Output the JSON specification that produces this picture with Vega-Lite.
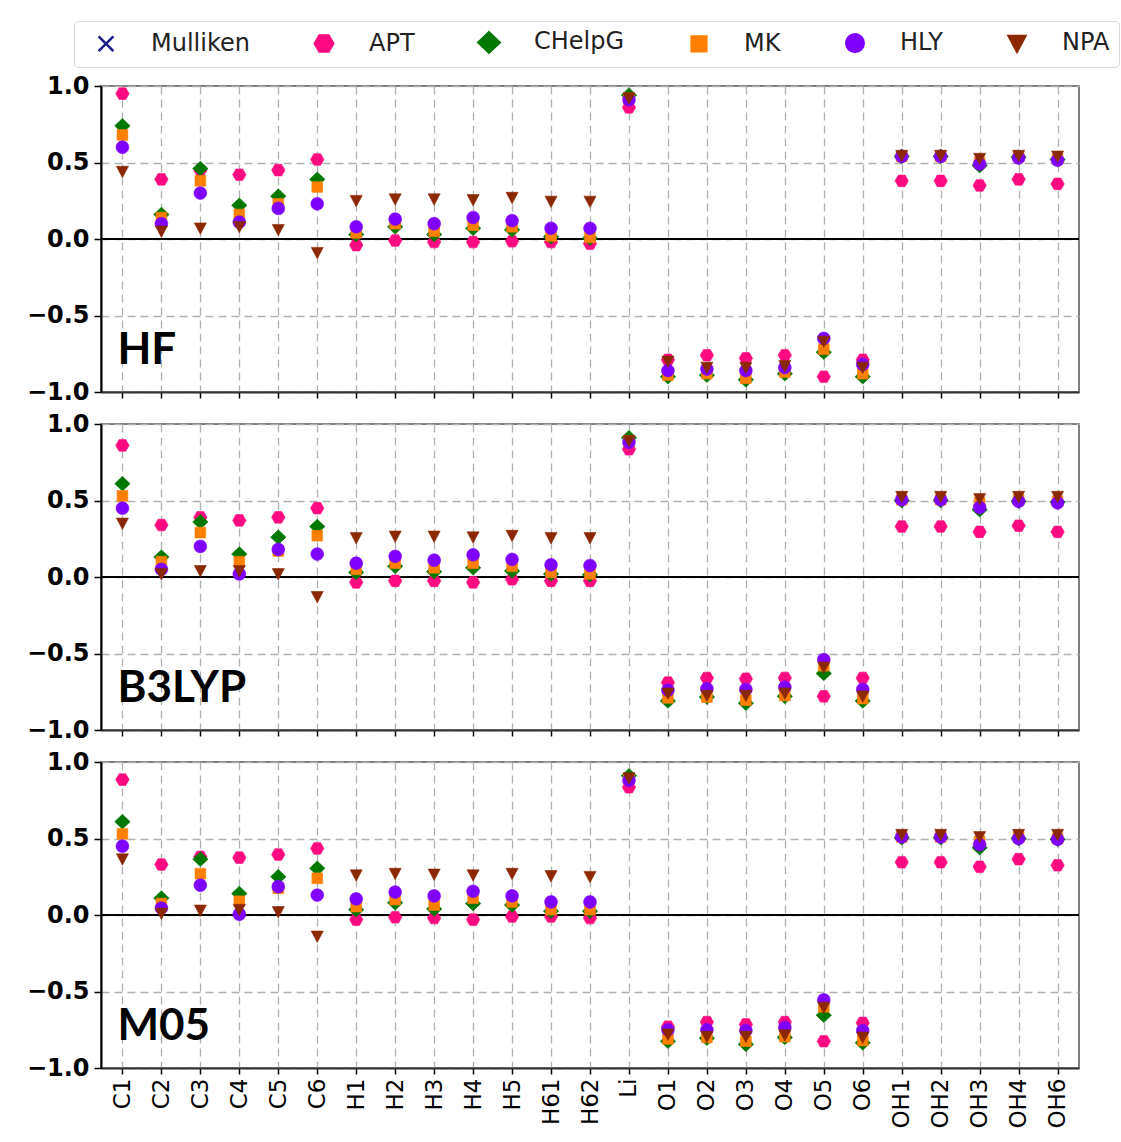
{
"$schema": "https://vega.github.io/schema/vega-lite/v6.json",
"background": "white",
"padding": {"left": 25, "top": 20, "right": 3, "bottom": 2},
"bounds": "flush",
"spacing": 32,
"config": {
  "view": {"stroke": "#555", "strokeWidth": 1.5},
  "font": "DejaVu Sans",
  "legend": {"symbolStrokeWidth": 2.5}
},
"datasets": {
"HF": [
{"atom":"C1","scheme":"APT","q":0.95},{"atom":"C1","scheme":"CHelpG","q":0.74},{"atom":"C1","scheme":"MK","q":0.68},{"atom":"C1","scheme":"HLY","q":0.60},{"atom":"C1","scheme":"NPA","q":0.44},
{"atom":"C2","scheme":"APT","q":0.39},{"atom":"C2","scheme":"CHelpG","q":0.16},{"atom":"C2","scheme":"MK","q":0.14},{"atom":"C2","scheme":"HLY","q":0.10},{"atom":"C2","scheme":"NPA","q":0.05},
{"atom":"C3","scheme":"APT","q":0.45},{"atom":"C3","scheme":"CHelpG","q":0.46},{"atom":"C3","scheme":"MK","q":0.38},{"atom":"C3","scheme":"HLY","q":0.30},{"atom":"C3","scheme":"NPA","q":0.07},
{"atom":"C4","scheme":"APT","q":0.42},{"atom":"C4","scheme":"CHelpG","q":0.22},{"atom":"C4","scheme":"MK","q":0.16},{"atom":"C4","scheme":"HLY","q":0.11},{"atom":"C4","scheme":"NPA","q":0.08},
{"atom":"C5","scheme":"APT","q":0.45},{"atom":"C5","scheme":"CHelpG","q":0.28},{"atom":"C5","scheme":"MK","q":0.23},{"atom":"C5","scheme":"HLY","q":0.20},{"atom":"C5","scheme":"NPA","q":0.06},
{"atom":"C6","scheme":"APT","q":0.52},{"atom":"C6","scheme":"CHelpG","q":0.39},{"atom":"C6","scheme":"MK","q":0.34},{"atom":"C6","scheme":"HLY","q":0.23},{"atom":"C6","scheme":"NPA","q":-0.09},
{"atom":"H1","scheme":"APT","q":-0.04},{"atom":"H1","scheme":"CHelpG","q":0.03},{"atom":"H1","scheme":"MK","q":0.04},{"atom":"H1","scheme":"HLY","q":0.08},{"atom":"H1","scheme":"NPA","q":0.25},
{"atom":"H2","scheme":"APT","q":-0.01},{"atom":"H2","scheme":"CHelpG","q":0.08},{"atom":"H2","scheme":"MK","q":0.10},{"atom":"H2","scheme":"HLY","q":0.13},{"atom":"H2","scheme":"NPA","q":0.26},
{"atom":"H3","scheme":"APT","q":-0.02},{"atom":"H3","scheme":"CHelpG","q":0.03},{"atom":"H3","scheme":"MK","q":0.05},{"atom":"H3","scheme":"HLY","q":0.10},{"atom":"H3","scheme":"NPA","q":0.26},
{"atom":"H4","scheme":"APT","q":-0.02},{"atom":"H4","scheme":"CHelpG","q":0.07},{"atom":"H4","scheme":"MK","q":0.09},{"atom":"H4","scheme":"HLY","q":0.14},{"atom":"H4","scheme":"NPA","q":0.255},
{"atom":"H5","scheme":"APT","q":-0.015},{"atom":"H5","scheme":"CHelpG","q":0.06},{"atom":"H5","scheme":"MK","q":0.08},{"atom":"H5","scheme":"HLY","q":0.12},{"atom":"H5","scheme":"NPA","q":0.27},
{"atom":"H61","scheme":"APT","q":-0.02},{"atom":"H61","scheme":"CHelpG","q":0.015},{"atom":"H61","scheme":"MK","q":0.02},{"atom":"H61","scheme":"HLY","q":0.07},{"atom":"H61","scheme":"NPA","q":0.245},
{"atom":"H62","scheme":"APT","q":-0.03},{"atom":"H62","scheme":"CHelpG","q":0.005},{"atom":"H62","scheme":"MK","q":0.01},{"atom":"H62","scheme":"HLY","q":0.07},{"atom":"H62","scheme":"NPA","q":0.245},
{"atom":"Li","scheme":"APT","q":0.86},{"atom":"Li","scheme":"CHelpG","q":0.94},{"atom":"Li","scheme":"MK","q":0.92},{"atom":"Li","scheme":"HLY","q":0.91},{"atom":"Li","scheme":"NPA","q":0.92},
{"atom":"O1","scheme":"APT","q":-0.79},{"atom":"O1","scheme":"CHelpG","q":-0.90},{"atom":"O1","scheme":"MK","q":-0.89},{"atom":"O1","scheme":"HLY","q":-0.86},{"atom":"O1","scheme":"NPA","q":-0.80},
{"atom":"O2","scheme":"APT","q":-0.76},{"atom":"O2","scheme":"CHelpG","q":-0.89},{"atom":"O2","scheme":"MK","q":-0.88},{"atom":"O2","scheme":"HLY","q":-0.85},{"atom":"O2","scheme":"NPA","q":-0.84},
{"atom":"O3","scheme":"APT","q":-0.78},{"atom":"O3","scheme":"CHelpG","q":-0.92},{"atom":"O3","scheme":"MK","q":-0.91},{"atom":"O3","scheme":"HLY","q":-0.86},{"atom":"O3","scheme":"NPA","q":-0.84},
{"atom":"O4","scheme":"APT","q":-0.76},{"atom":"O4","scheme":"CHelpG","q":-0.88},{"atom":"O4","scheme":"MK","q":-0.87},{"atom":"O4","scheme":"HLY","q":-0.84},{"atom":"O4","scheme":"NPA","q":-0.83},
{"atom":"O5","scheme":"APT","q":-0.90},{"atom":"O5","scheme":"CHelpG","q":-0.74},{"atom":"O5","scheme":"MK","q":-0.72},{"atom":"O5","scheme":"HLY","q":-0.65},{"atom":"O5","scheme":"NPA","q":-0.67},
{"atom":"O6","scheme":"APT","q":-0.79},{"atom":"O6","scheme":"CHelpG","q":-0.90},{"atom":"O6","scheme":"MK","q":-0.88},{"atom":"O6","scheme":"HLY","q":-0.82},{"atom":"O6","scheme":"NPA","q":-0.84},
{"atom":"OH1","scheme":"APT","q":0.38},{"atom":"OH1","scheme":"CHelpG","q":0.54},{"atom":"OH1","scheme":"MK","q":0.54},{"atom":"OH1","scheme":"HLY","q":0.54},{"atom":"OH1","scheme":"NPA","q":0.545},
{"atom":"OH2","scheme":"APT","q":0.38},{"atom":"OH2","scheme":"CHelpG","q":0.54},{"atom":"OH2","scheme":"MK","q":0.54},{"atom":"OH2","scheme":"HLY","q":0.54},{"atom":"OH2","scheme":"NPA","q":0.545},
{"atom":"OH3","scheme":"APT","q":0.35},{"atom":"OH3","scheme":"CHelpG","q":0.48},{"atom":"OH3","scheme":"MK","q":0.50},{"atom":"OH3","scheme":"HLY","q":0.49},{"atom":"OH3","scheme":"NPA","q":0.525},
{"atom":"OH4","scheme":"APT","q":0.39},{"atom":"OH4","scheme":"CHelpG","q":0.535},{"atom":"OH4","scheme":"MK","q":0.54},{"atom":"OH4","scheme":"HLY","q":0.53},{"atom":"OH4","scheme":"NPA","q":0.545},
{"atom":"OH6","scheme":"APT","q":0.36},{"atom":"OH6","scheme":"CHelpG","q":0.52},{"atom":"OH6","scheme":"MK","q":0.525},{"atom":"OH6","scheme":"HLY","q":0.515},{"atom":"OH6","scheme":"NPA","q":0.54}
],
"B3LYP": [
{"atom":"C1","scheme":"APT","q":0.86},{"atom":"C1","scheme":"CHelpG","q":0.61},{"atom":"C1","scheme":"MK","q":0.53},{"atom":"C1","scheme":"HLY","q":0.45},{"atom":"C1","scheme":"NPA","q":0.35},
{"atom":"C2","scheme":"APT","q":0.34},{"atom":"C2","scheme":"CHelpG","q":0.13},{"atom":"C2","scheme":"MK","q":0.10},{"atom":"C2","scheme":"HLY","q":0.05},{"atom":"C2","scheme":"NPA","q":0.02},
{"atom":"C3","scheme":"APT","q":0.39},{"atom":"C3","scheme":"CHelpG","q":0.36},{"atom":"C3","scheme":"MK","q":0.29},{"atom":"C3","scheme":"HLY","q":0.20},{"atom":"C3","scheme":"NPA","q":0.04},
{"atom":"C4","scheme":"APT","q":0.37},{"atom":"C4","scheme":"CHelpG","q":0.15},{"atom":"C4","scheme":"MK","q":0.10},{"atom":"C4","scheme":"HLY","q":0.02},{"atom":"C4","scheme":"NPA","q":0.04},
{"atom":"C5","scheme":"APT","q":0.39},{"atom":"C5","scheme":"CHelpG","q":0.26},{"atom":"C5","scheme":"MK","q":0.17},{"atom":"C5","scheme":"HLY","q":0.18},{"atom":"C5","scheme":"NPA","q":0.02},
{"atom":"C6","scheme":"APT","q":0.45},{"atom":"C6","scheme":"CHelpG","q":0.33},{"atom":"C6","scheme":"MK","q":0.27},{"atom":"C6","scheme":"HLY","q":0.15},{"atom":"C6","scheme":"NPA","q":-0.13},
{"atom":"H1","scheme":"APT","q":-0.035},{"atom":"H1","scheme":"CHelpG","q":0.03},{"atom":"H1","scheme":"MK","q":0.05},{"atom":"H1","scheme":"HLY","q":0.09},{"atom":"H1","scheme":"NPA","q":0.255},
{"atom":"H2","scheme":"APT","q":-0.025},{"atom":"H2","scheme":"CHelpG","q":0.07},{"atom":"H2","scheme":"MK","q":0.09},{"atom":"H2","scheme":"HLY","q":0.135},{"atom":"H2","scheme":"NPA","q":0.265},
{"atom":"H3","scheme":"APT","q":-0.025},{"atom":"H3","scheme":"CHelpG","q":0.035},{"atom":"H3","scheme":"MK","q":0.06},{"atom":"H3","scheme":"HLY","q":0.11},{"atom":"H3","scheme":"NPA","q":0.265},
{"atom":"H4","scheme":"APT","q":-0.035},{"atom":"H4","scheme":"CHelpG","q":0.06},{"atom":"H4","scheme":"MK","q":0.09},{"atom":"H4","scheme":"HLY","q":0.145},{"atom":"H4","scheme":"NPA","q":0.26},
{"atom":"H5","scheme":"APT","q":-0.015},{"atom":"H5","scheme":"CHelpG","q":0.04},{"atom":"H5","scheme":"MK","q":0.07},{"atom":"H5","scheme":"HLY","q":0.115},{"atom":"H5","scheme":"NPA","q":0.27},
{"atom":"H61","scheme":"APT","q":-0.025},{"atom":"H61","scheme":"CHelpG","q":0.02},{"atom":"H61","scheme":"MK","q":0.03},{"atom":"H61","scheme":"HLY","q":0.08},{"atom":"H61","scheme":"NPA","q":0.255},
{"atom":"H62","scheme":"APT","q":-0.025},{"atom":"H62","scheme":"CHelpG","q":0.015},{"atom":"H62","scheme":"MK","q":0.02},{"atom":"H62","scheme":"HLY","q":0.075},{"atom":"H62","scheme":"NPA","q":0.255},
{"atom":"Li","scheme":"APT","q":0.835},{"atom":"Li","scheme":"CHelpG","q":0.91},{"atom":"Li","scheme":"MK","q":0.89},{"atom":"Li","scheme":"HLY","q":0.88},{"atom":"Li","scheme":"NPA","q":0.89},
{"atom":"O1","scheme":"APT","q":-0.69},{"atom":"O1","scheme":"CHelpG","q":-0.81},{"atom":"O1","scheme":"MK","q":-0.79},{"atom":"O1","scheme":"HLY","q":-0.74},{"atom":"O1","scheme":"NPA","q":-0.76},
{"atom":"O2","scheme":"APT","q":-0.66},{"atom":"O2","scheme":"CHelpG","q":-0.785},{"atom":"O2","scheme":"MK","q":-0.785},{"atom":"O2","scheme":"HLY","q":-0.73},{"atom":"O2","scheme":"NPA","q":-0.775},
{"atom":"O3","scheme":"APT","q":-0.665},{"atom":"O3","scheme":"CHelpG","q":-0.825},{"atom":"O3","scheme":"MK","q":-0.805},{"atom":"O3","scheme":"HLY","q":-0.735},{"atom":"O3","scheme":"NPA","q":-0.775},
{"atom":"O4","scheme":"APT","q":-0.66},{"atom":"O4","scheme":"CHelpG","q":-0.78},{"atom":"O4","scheme":"MK","q":-0.775},{"atom":"O4","scheme":"HLY","q":-0.72},{"atom":"O4","scheme":"NPA","q":-0.76},
{"atom":"O5","scheme":"APT","q":-0.78},{"atom":"O5","scheme":"CHelpG","q":-0.63},{"atom":"O5","scheme":"MK","q":-0.58},{"atom":"O5","scheme":"HLY","q":-0.54},{"atom":"O5","scheme":"NPA","q":-0.59},
{"atom":"O6","scheme":"APT","q":-0.66},{"atom":"O6","scheme":"CHelpG","q":-0.81},{"atom":"O6","scheme":"MK","q":-0.795},{"atom":"O6","scheme":"HLY","q":-0.735},{"atom":"O6","scheme":"NPA","q":-0.78},
{"atom":"OH1","scheme":"APT","q":0.33},{"atom":"OH1","scheme":"CHelpG","q":0.50},{"atom":"OH1","scheme":"MK","q":0.505},{"atom":"OH1","scheme":"HLY","q":0.505},{"atom":"OH1","scheme":"NPA","q":0.525},
{"atom":"OH2","scheme":"APT","q":0.33},{"atom":"OH2","scheme":"CHelpG","q":0.50},{"atom":"OH2","scheme":"MK","q":0.505},{"atom":"OH2","scheme":"HLY","q":0.505},{"atom":"OH2","scheme":"NPA","q":0.525},
{"atom":"OH3","scheme":"APT","q":0.295},{"atom":"OH3","scheme":"CHelpG","q":0.44},{"atom":"OH3","scheme":"MK","q":0.485},{"atom":"OH3","scheme":"HLY","q":0.455},{"atom":"OH3","scheme":"NPA","q":0.51},
{"atom":"OH4","scheme":"APT","q":0.335},{"atom":"OH4","scheme":"CHelpG","q":0.495},{"atom":"OH4","scheme":"MK","q":0.505},{"atom":"OH4","scheme":"HLY","q":0.495},{"atom":"OH4","scheme":"NPA","q":0.525},
{"atom":"OH6","scheme":"APT","q":0.295},{"atom":"OH6","scheme":"CHelpG","q":0.49},{"atom":"OH6","scheme":"MK","q":0.495},{"atom":"OH6","scheme":"HLY","q":0.485},{"atom":"OH6","scheme":"NPA","q":0.525}
],
"M05": [
{"atom":"C1","scheme":"APT","q":0.885},{"atom":"C1","scheme":"CHelpG","q":0.61},{"atom":"C1","scheme":"MK","q":0.53},{"atom":"C1","scheme":"HLY","q":0.45},{"atom":"C1","scheme":"NPA","q":0.365},
{"atom":"C2","scheme":"APT","q":0.33},{"atom":"C2","scheme":"CHelpG","q":0.11},{"atom":"C2","scheme":"MK","q":0.075},{"atom":"C2","scheme":"HLY","q":0.045},{"atom":"C2","scheme":"NPA","q":0.01},
{"atom":"C3","scheme":"APT","q":0.38},{"atom":"C3","scheme":"CHelpG","q":0.365},{"atom":"C3","scheme":"MK","q":0.27},{"atom":"C3","scheme":"HLY","q":0.195},{"atom":"C3","scheme":"NPA","q":0.03},
{"atom":"C4","scheme":"APT","q":0.375},{"atom":"C4","scheme":"CHelpG","q":0.14},{"atom":"C4","scheme":"MK","q":0.09},{"atom":"C4","scheme":"HLY","q":0.005},{"atom":"C4","scheme":"NPA","q":0.035},
{"atom":"C5","scheme":"APT","q":0.395},{"atom":"C5","scheme":"CHelpG","q":0.25},{"atom":"C5","scheme":"MK","q":0.175},{"atom":"C5","scheme":"HLY","q":0.185},{"atom":"C5","scheme":"NPA","q":0.02},
{"atom":"C6","scheme":"APT","q":0.435},{"atom":"C6","scheme":"CHelpG","q":0.305},{"atom":"C6","scheme":"MK","q":0.24},{"atom":"C6","scheme":"HLY","q":0.13},{"atom":"C6","scheme":"NPA","q":-0.14},
{"atom":"H1","scheme":"APT","q":-0.03},{"atom":"H1","scheme":"CHelpG","q":0.035},{"atom":"H1","scheme":"MK","q":0.055},{"atom":"H1","scheme":"HLY","q":0.105},{"atom":"H1","scheme":"NPA","q":0.26},
{"atom":"H2","scheme":"APT","q":-0.015},{"atom":"H2","scheme":"CHelpG","q":0.08},{"atom":"H2","scheme":"MK","q":0.10},{"atom":"H2","scheme":"HLY","q":0.15},{"atom":"H2","scheme":"NPA","q":0.27},
{"atom":"H3","scheme":"APT","q":-0.02},{"atom":"H3","scheme":"CHelpG","q":0.04},{"atom":"H3","scheme":"MK","q":0.065},{"atom":"H3","scheme":"HLY","q":0.125},{"atom":"H3","scheme":"NPA","q":0.265},
{"atom":"H4","scheme":"APT","q":-0.03},{"atom":"H4","scheme":"CHelpG","q":0.075},{"atom":"H4","scheme":"MK","q":0.11},{"atom":"H4","scheme":"HLY","q":0.155},{"atom":"H4","scheme":"NPA","q":0.26},
{"atom":"H5","scheme":"APT","q":-0.01},{"atom":"H5","scheme":"CHelpG","q":0.065},{"atom":"H5","scheme":"MK","q":0.085},{"atom":"H5","scheme":"HLY","q":0.125},{"atom":"H5","scheme":"NPA","q":0.27},
{"atom":"H61","scheme":"APT","q":-0.01},{"atom":"H61","scheme":"CHelpG","q":0.025},{"atom":"H61","scheme":"MK","q":0.035},{"atom":"H61","scheme":"HLY","q":0.085},{"atom":"H61","scheme":"NPA","q":0.255},
{"atom":"H62","scheme":"APT","q":-0.02},{"atom":"H62","scheme":"CHelpG","q":0.025},{"atom":"H62","scheme":"MK","q":0.035},{"atom":"H62","scheme":"HLY","q":0.085},{"atom":"H62","scheme":"NPA","q":0.25},
{"atom":"Li","scheme":"APT","q":0.835},{"atom":"Li","scheme":"CHelpG","q":0.91},{"atom":"Li","scheme":"MK","q":0.89},{"atom":"Li","scheme":"HLY","q":0.88},{"atom":"Li","scheme":"NPA","q":0.895},
{"atom":"O1","scheme":"APT","q":-0.73},{"atom":"O1","scheme":"CHelpG","q":-0.825},{"atom":"O1","scheme":"MK","q":-0.81},{"atom":"O1","scheme":"HLY","q":-0.75},{"atom":"O1","scheme":"NPA","q":-0.78},
{"atom":"O2","scheme":"APT","q":-0.70},{"atom":"O2","scheme":"CHelpG","q":-0.805},{"atom":"O2","scheme":"MK","q":-0.80},{"atom":"O2","scheme":"HLY","q":-0.75},{"atom":"O2","scheme":"NPA","q":-0.795},
{"atom":"O3","scheme":"APT","q":-0.715},{"atom":"O3","scheme":"CHelpG","q":-0.845},{"atom":"O3","scheme":"MK","q":-0.825},{"atom":"O3","scheme":"HLY","q":-0.755},{"atom":"O3","scheme":"NPA","q":-0.795},
{"atom":"O4","scheme":"APT","q":-0.70},{"atom":"O4","scheme":"CHelpG","q":-0.80},{"atom":"O4","scheme":"MK","q":-0.795},{"atom":"O4","scheme":"HLY","q":-0.735},{"atom":"O4","scheme":"NPA","q":-0.785},
{"atom":"O5","scheme":"APT","q":-0.825},{"atom":"O5","scheme":"CHelpG","q":-0.655},{"atom":"O5","scheme":"MK","q":-0.60},{"atom":"O5","scheme":"HLY","q":-0.555},{"atom":"O5","scheme":"NPA","q":-0.605},
{"atom":"O6","scheme":"APT","q":-0.705},{"atom":"O6","scheme":"CHelpG","q":-0.835},{"atom":"O6","scheme":"MK","q":-0.82},{"atom":"O6","scheme":"HLY","q":-0.755},{"atom":"O6","scheme":"NPA","q":-0.80},
{"atom":"OH1","scheme":"APT","q":0.345},{"atom":"OH1","scheme":"CHelpG","q":0.505},{"atom":"OH1","scheme":"MK","q":0.51},{"atom":"OH1","scheme":"HLY","q":0.51},{"atom":"OH1","scheme":"NPA","q":0.525},
{"atom":"OH2","scheme":"APT","q":0.345},{"atom":"OH2","scheme":"CHelpG","q":0.505},{"atom":"OH2","scheme":"MK","q":0.51},{"atom":"OH2","scheme":"HLY","q":0.51},{"atom":"OH2","scheme":"NPA","q":0.525},
{"atom":"OH3","scheme":"APT","q":0.315},{"atom":"OH3","scheme":"CHelpG","q":0.44},{"atom":"OH3","scheme":"MK","q":0.48},{"atom":"OH3","scheme":"HLY","q":0.46},{"atom":"OH3","scheme":"NPA","q":0.51},
{"atom":"OH4","scheme":"APT","q":0.365},{"atom":"OH4","scheme":"CHelpG","q":0.50},{"atom":"OH4","scheme":"MK","q":0.51},{"atom":"OH4","scheme":"HLY","q":0.50},{"atom":"OH4","scheme":"NPA","q":0.525},
{"atom":"OH6","scheme":"APT","q":0.325},{"atom":"OH6","scheme":"CHelpG","q":0.495},{"atom":"OH6","scheme":"MK","q":0.50},{"atom":"OH6","scheme":"HLY","q":0.495},{"atom":"OH6","scheme":"NPA","q":0.525}
]
},
"vconcat": [
{
  "width": 978, "height": 306,
  "layer": [
    {"data": {"values": [{}]}, "mark": {"type": "rule", "color": "black", "strokeWidth": 2}, "encoding": {"y": {"datum": 0, "type": "quantitative"}}},
    {"data": {"name": "HF"},
     "mark": {"type": "point", "filled": true, "opacity": 1, "size": 180, "strokeWidth": 0.6},
     "encoding": {
       "x": {"field": "atom", "type": "nominal", "scale": {"type": "point", "padding": 0.55, "domain": ["C1","C2","C3","C4","C5","C6","H1","H2","H3","H4","H5","H61","H62","Li","O1","O2","O3","O4","O5","O6","OH1","OH2","OH3","OH4","OH6"]},
             "axis": {"title": null, "labels": false, "ticks": true, "tickColor": "black", "tickSize": 6, "tickWidth": 1.5, "domainColor": "#333", "domainWidth": 2, "grid": true, "gridDash": [8,5], "gridColor": "#b0b0b0", "gridWidth": 1.3}},
       "y": {"field": "q", "type": "quantitative", "scale": {"domain": [-1, 1], "nice": false, "zero": false},
             "axis": {"title": null, "values": [-1,-0.75,-0.5,-0.25,0,0.25,0.5,0.75,1], "format": ".1f",
                      "labelExpr": "abs(datum.value*2 - round(datum.value*2)) < 0.01 ? datum.label : ''",
                      "labelFontWeight": "bold", "labelFontSize": 24, "labelColor": "black", "labelPadding": 5,
                      "tickColor": "black", "tickWidth": 1.5,
                      "tickSize": {"condition": {"test": "abs(datum.value*2 - round(datum.value*2)) < 0.01", "value": 7}, "value": 4},
                      "domainColor": "black", "domainWidth": 2, "grid": true, "gridDash": [8,5], "gridColor": "#b0b0b0", "gridWidth": 1.3}},
       "color": {"field": "scheme", "type": "nominal",
                 "scale": {"domain": ["Mulliken","APT","CHelpG","MK","HLY","NPA"], "range": ["#1a1a8c","#ff0a80","#007800","#ff8000","#8000ff","#8b2800"]},
                 "legend": {"title": null, "orient": "none", "legendX": -27, "legendY": -65, "direction": "horizontal", "columns": 6,
                            "symbolSize": 340, "symbolOffset": 11, "labelFontSize": 24, "labelFont": "DejaVu Sans", "labelColor": "#222", "columnPadding": 51,
                            "labelOffset": 33, "padding": 9, "strokeColor": "#d8d8d8", "cornerRadius": 4, "fillColor": "white", "labelLimit": 300}},
       "stroke": {"field": "scheme", "type": "nominal",
                 "scale": {"domain": ["Mulliken","APT","CHelpG","MK","HLY","NPA"], "range": ["#1a1a8c","#ff0a80","#007800","#ff8000","#8000ff","#8b2800"]},
                 "legend": {"title": null, "orient": "none", "legendX": -27, "legendY": -65, "direction": "horizontal", "columns": 6,
                            "symbolSize": 340, "symbolOffset": 11, "labelFontSize": 24, "labelFont": "DejaVu Sans", "labelColor": "#222", "columnPadding": 51,
                            "labelOffset": 33, "padding": 9, "strokeColor": "#d8d8d8", "cornerRadius": 4, "fillColor": "white", "labelLimit": 300}},
       "shape": {"field": "scheme", "type": "nominal",
                 "scale": {"domain": ["Mulliken","APT","CHelpG","MK","HLY","NPA"],
                           "range": ["M-0.8,-0.8L0.8,0.8M-0.8,0.8L0.8,-0.8",
                                     "M-1,0L-0.5,-0.866L0.5,-0.866L1,0L0.5,0.866L-0.5,0.866Z",
                                     "M0,-1.1L1.15,0L0,1.1L-1.15,0Z",
                                     "M-0.8,-0.8L0.8,-0.8L0.8,0.8L-0.8,0.8Z",
                                     "M0.95,0A0.95,0.95,0,1,1,-0.95,0A0.95,0.95,0,1,1,0.95,0Z",
                                     "M-0.9,-0.8L0.9,-0.8L0,0.9Z"]},
                 "legend": {"title": null, "orient": "none", "legendX": -27, "legendY": -65, "direction": "horizontal", "columns": 6,
                            "symbolSize": 340, "symbolOffset": 11, "labelFontSize": 24, "labelFont": "DejaVu Sans", "labelColor": "#222", "columnPadding": 51,
                            "labelOffset": 33, "padding": 9, "strokeColor": "#d8d8d8", "cornerRadius": 4, "fillColor": "white", "labelLimit": 300}}
     }},
    {"data": {"values": [{}]}, "mark": {"type": "text", "font": "Lato", "fontWeight": "bold", "fontSize": 44, "align": "left", "baseline": "alphabetic", "dx": -5, "color": "black"},
     "encoding": {"x": {"datum": "C1"}, "y": {"datum": -0.82, "type": "quantitative"}, "text": {"value": "HF"}}}
  ]
},
{
  "width": 978, "height": 306,
  "layer": [
    {"data": {"values": [{}]}, "mark": {"type": "rule", "color": "black", "strokeWidth": 2}, "encoding": {"y": {"datum": 0, "type": "quantitative"}}},
    {"data": {"name": "B3LYP"},
     "mark": {"type": "point", "filled": true, "opacity": 1, "size": 180, "strokeWidth": 0.6},
     "encoding": {
       "x": {"field": "atom", "type": "nominal", "scale": {"type": "point", "padding": 0.55, "domain": ["C1","C2","C3","C4","C5","C6","H1","H2","H3","H4","H5","H61","H62","Li","O1","O2","O3","O4","O5","O6","OH1","OH2","OH3","OH4","OH6"]},
             "axis": {"title": null, "labels": false, "ticks": true, "tickColor": "black", "tickSize": 6, "tickWidth": 1.5, "domainColor": "#333", "domainWidth": 2, "grid": true, "gridDash": [8,5], "gridColor": "#b0b0b0", "gridWidth": 1.3}},
       "y": {"field": "q", "type": "quantitative", "scale": {"domain": [-1, 1], "nice": false, "zero": false},
             "axis": {"title": null, "values": [-1,-0.75,-0.5,-0.25,0,0.25,0.5,0.75,1], "format": ".1f",
                      "labelExpr": "abs(datum.value*2 - round(datum.value*2)) < 0.01 ? datum.label : ''",
                      "labelFontWeight": "bold", "labelFontSize": 24, "labelColor": "black", "labelPadding": 5,
                      "tickColor": "black", "tickWidth": 1.5,
                      "tickSize": {"condition": {"test": "abs(datum.value*2 - round(datum.value*2)) < 0.01", "value": 7}, "value": 4},
                      "domainColor": "black", "domainWidth": 2, "grid": true, "gridDash": [8,5], "gridColor": "#b0b0b0", "gridWidth": 1.3}},
       "color": {"field": "scheme", "type": "nominal", "scale": {"domain": ["Mulliken","APT","CHelpG","MK","HLY","NPA"], "range": ["#1a1a8c","#ff0a80","#007800","#ff8000","#8000ff","#8b2800"]}},
       "stroke": {"field": "scheme", "type": "nominal", "scale": {"domain": ["Mulliken","APT","CHelpG","MK","HLY","NPA"], "range": ["#1a1a8c","#ff0a80","#007800","#ff8000","#8000ff","#8b2800"]}},
       "shape": {"field": "scheme", "type": "nominal",
                 "scale": {"domain": ["Mulliken","APT","CHelpG","MK","HLY","NPA"],
                           "range": ["M-0.8,-0.8L0.8,0.8M-0.8,0.8L0.8,-0.8",
                                     "M-1,0L-0.5,-0.866L0.5,-0.866L1,0L0.5,0.866L-0.5,0.866Z",
                                     "M0,-1.1L1.15,0L0,1.1L-1.15,0Z",
                                     "M-0.8,-0.8L0.8,-0.8L0.8,0.8L-0.8,0.8Z",
                                     "M0.95,0A0.95,0.95,0,1,1,-0.95,0A0.95,0.95,0,1,1,0.95,0Z",
                                     "M-0.9,-0.8L0.9,-0.8L0,0.9Z"]}}
     }},
    {"data": {"values": [{}]}, "mark": {"type": "text", "font": "Lato", "fontWeight": "bold", "fontSize": 44, "align": "left", "baseline": "alphabetic", "dx": -5, "color": "black"},
     "encoding": {"x": {"datum": "C1"}, "y": {"datum": -0.82, "type": "quantitative"}, "text": {"value": "B3LYP"}}}
  ]
},
{
  "width": 978, "height": 306,
  "layer": [
    {"data": {"values": [{}]}, "mark": {"type": "rule", "color": "black", "strokeWidth": 2}, "encoding": {"y": {"datum": 0, "type": "quantitative"}}},
    {"data": {"name": "M05"},
     "mark": {"type": "point", "filled": true, "opacity": 1, "size": 180, "strokeWidth": 0.6},
     "encoding": {
       "x": {"field": "atom", "type": "nominal", "scale": {"type": "point", "padding": 0.55, "domain": ["C1","C2","C3","C4","C5","C6","H1","H2","H3","H4","H5","H61","H62","Li","O1","O2","O3","O4","O5","O6","OH1","OH2","OH3","OH4","OH6"]},
             "axis": {"title": null, "labels": true, "labelAngle": -90, "labelFontSize": 23, "labelFont": "DejaVu Sans", "labelColor": "black", "labelPadding": 4, "ticks": true, "tickColor": "black", "tickSize": 6, "tickWidth": 1.5, "domainColor": "#333", "domainWidth": 2, "grid": true, "gridDash": [8,5], "gridColor": "#b0b0b0", "gridWidth": 1.3}},
       "y": {"field": "q", "type": "quantitative", "scale": {"domain": [-1, 1], "nice": false, "zero": false},
             "axis": {"title": null, "values": [-1,-0.75,-0.5,-0.25,0,0.25,0.5,0.75,1], "format": ".1f",
                      "labelExpr": "abs(datum.value*2 - round(datum.value*2)) < 0.01 ? datum.label : ''",
                      "labelFontWeight": "bold", "labelFontSize": 24, "labelColor": "black", "labelPadding": 5,
                      "tickColor": "black", "tickWidth": 1.5,
                      "tickSize": {"condition": {"test": "abs(datum.value*2 - round(datum.value*2)) < 0.01", "value": 7}, "value": 4},
                      "domainColor": "black", "domainWidth": 2, "grid": true, "gridDash": [8,5], "gridColor": "#b0b0b0", "gridWidth": 1.3}},
       "color": {"field": "scheme", "type": "nominal", "scale": {"domain": ["Mulliken","APT","CHelpG","MK","HLY","NPA"], "range": ["#1a1a8c","#ff0a80","#007800","#ff8000","#8000ff","#8b2800"]}},
       "stroke": {"field": "scheme", "type": "nominal", "scale": {"domain": ["Mulliken","APT","CHelpG","MK","HLY","NPA"], "range": ["#1a1a8c","#ff0a80","#007800","#ff8000","#8000ff","#8b2800"]}},
       "shape": {"field": "scheme", "type": "nominal",
                 "scale": {"domain": ["Mulliken","APT","CHelpG","MK","HLY","NPA"],
                           "range": ["M-0.8,-0.8L0.8,0.8M-0.8,0.8L0.8,-0.8",
                                     "M-1,0L-0.5,-0.866L0.5,-0.866L1,0L0.5,0.866L-0.5,0.866Z",
                                     "M0,-1.1L1.15,0L0,1.1L-1.15,0Z",
                                     "M-0.8,-0.8L0.8,-0.8L0.8,0.8L-0.8,0.8Z",
                                     "M0.95,0A0.95,0.95,0,1,1,-0.95,0A0.95,0.95,0,1,1,0.95,0Z",
                                     "M-0.9,-0.8L0.9,-0.8L0,0.9Z"]}}
     }},
    {"data": {"values": [{}]}, "mark": {"type": "text", "font": "Lato", "fontWeight": "bold", "fontSize": 44, "align": "left", "baseline": "alphabetic", "dx": -5, "color": "black"},
     "encoding": {"x": {"datum": "C1"}, "y": {"datum": -0.82, "type": "quantitative"}, "text": {"value": "M05"}}}
  ]
}
],
"resolve": {"scale": {"color": "shared", "shape": "shared", "stroke": "shared"}, "legend": {"color": "shared", "shape": "shared", "stroke": "shared"}}
}
